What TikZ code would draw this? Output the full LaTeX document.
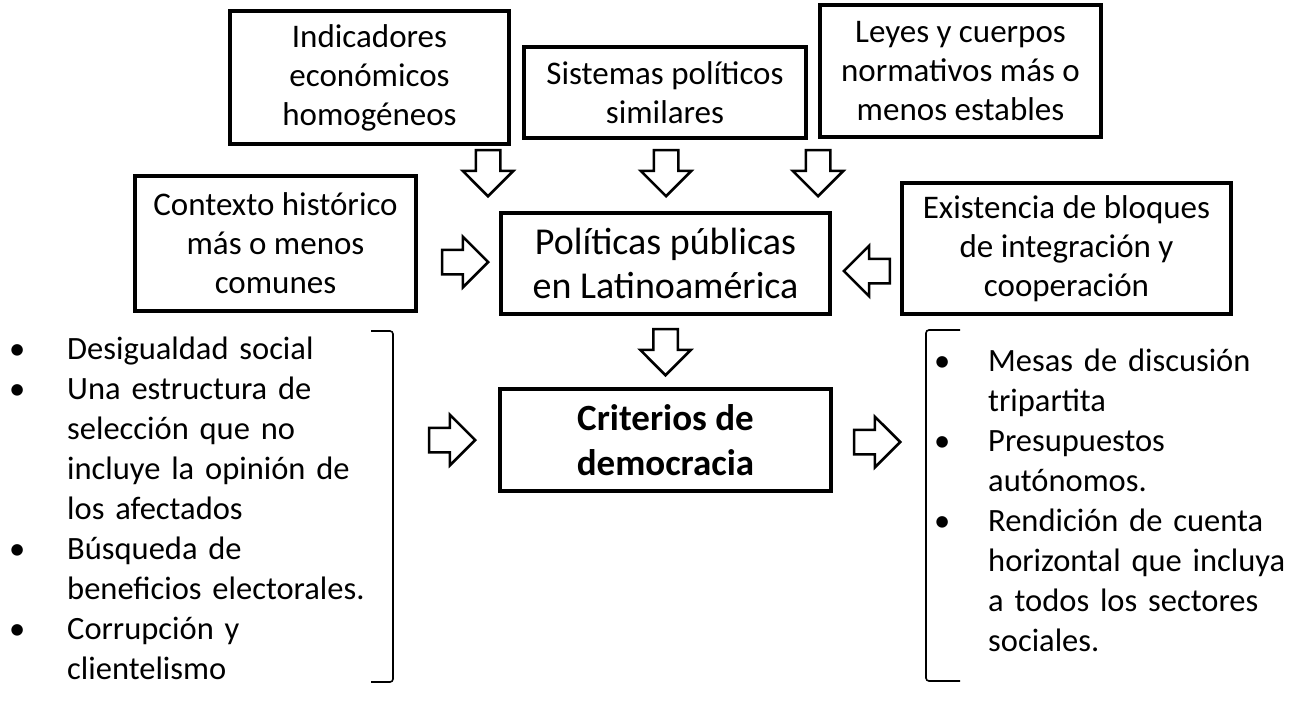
\documentclass[tikz,border=0pt]{standalone}
\usepackage{fontspec}
\setmainfont{Carlito}
\usetikzlibrary{shapes.arrows}
\makeatletter
\renewcommand\@listI{\leftmargin\leftmargini\topsep\z@\partopsep\z@\parsep\z@\itemsep\z@}
\let\@listi\@listI
\makeatother

\begin{document}
\begin{tikzpicture}[x=1pt, y=-1pt]
\tikzstyle{block} = [rectangle, draw=black, line width=3.5pt, align=center, inner sep=0pt, font=\fontsize{33}{39}\selectfont]
\tikzstyle{bigBlock} = [block, font=\fontsize{38}{44}\selectfont]
\tikzstyle{fatArrow} = [single arrow, draw=black, fill=white, line width=2.5pt, inner xsep=0pt, inner ysep=11pt, minimum height=46pt, single arrow head extend=13pt, anchor=tip]
\tikzstyle{bracket} = [draw=black, line width=1.6pt, rounded corners=3pt]
\tikzstyle{list} = [anchor=north west, inner sep=0pt, text width=400pt, align=left, font=\fontsize{32.5}{40}\selectfont]
\useasboundingbox (0,0) rectangle (1315,705);
\node (B_ind) at (369.5,77.5) [block, minimum width=279pt, minimum height=133pt] {Indicadores\\económicos\\homogéneos};
\node (B_sis) at (665,92.5) [block, minimum width=282pt, minimum height=91pt] {Sistemas políticos\\similares};
\node (B_ley) at (960.5,71) [block, minimum width=281pt, minimum height=132pt] {Leyes y cuerpos\\normativos más o\\menos estables};
\node (B_con) at (275.5,243.5) [block, minimum width=281pt, minimum height=135pt] {Contexto histórico\\más o menos\\comunes};
\node (B_pol) at (665.5,263.5) [bigBlock, minimum width=329pt, minimum height=101pt] {Políticas públicas\\en Latinoamérica};
\node (B_exi) at (1066.5,248.5) [block, minimum width=329pt, minimum height=131pt] {Existencia de bloques\\de integración y\\cooperación};
\node (B_cri) at (665.5,440) [bigBlock, minimum width=331pt, minimum height=102pt, font=\fontsize{37}{45}\selectfont\bfseries] {Criterios de\\democracia};
\node (A_ind) at (488,198) [fatArrow, rotate=-90] {};
\node (A_sis) at (666,198) [fatArrow, rotate=-90] {};
\node (A_ley) at (818,198) [fatArrow, rotate=-90] {};
\node (A_con) at (490,262) [fatArrow] {};
\node (A_exi) at (842,271) [fatArrow, rotate=180] {};
\node (A_pol) at (665.5,377) [fatArrow, rotate=-90] {};
\node (A_izq) at (477,440) [fatArrow] {};
\node (A_der) at (902,442) [fatArrow] {};
\draw[bracket] (371,331) -- (393,331) -- (393,682) -- (371,682);
\draw[bracket] (960,330) -- (926,330) -- (926,681) -- (960,681);
\node (L_izq) at (0,319) [list] {%
\setlength{\leftmargini}{67pt}\setlength{\labelsep}{42pt}%
\begin{itemize}\raggedright
\item Desigualdad social
\item Una estructura de\\selección que no\\incluye la opinión de\\los afectados
\item Búsqueda de\\beneficios electorales.
\item Corrupción y\\clientelismo
\end{itemize}};
\node (L_der) at (930,331) [list, text width=380pt] {%
\setlength{\leftmargini}{58pt}\setlength{\labelsep}{38pt}%
\begin{itemize}\raggedright
\item Mesas de discusión\\tripartita
\item Presupuestos\\autónomos.
\item Rendición de cuenta\\horizontal que incluya\\a todos los sectores\\sociales.
\end{itemize}};
\end{tikzpicture}
\end{document}
